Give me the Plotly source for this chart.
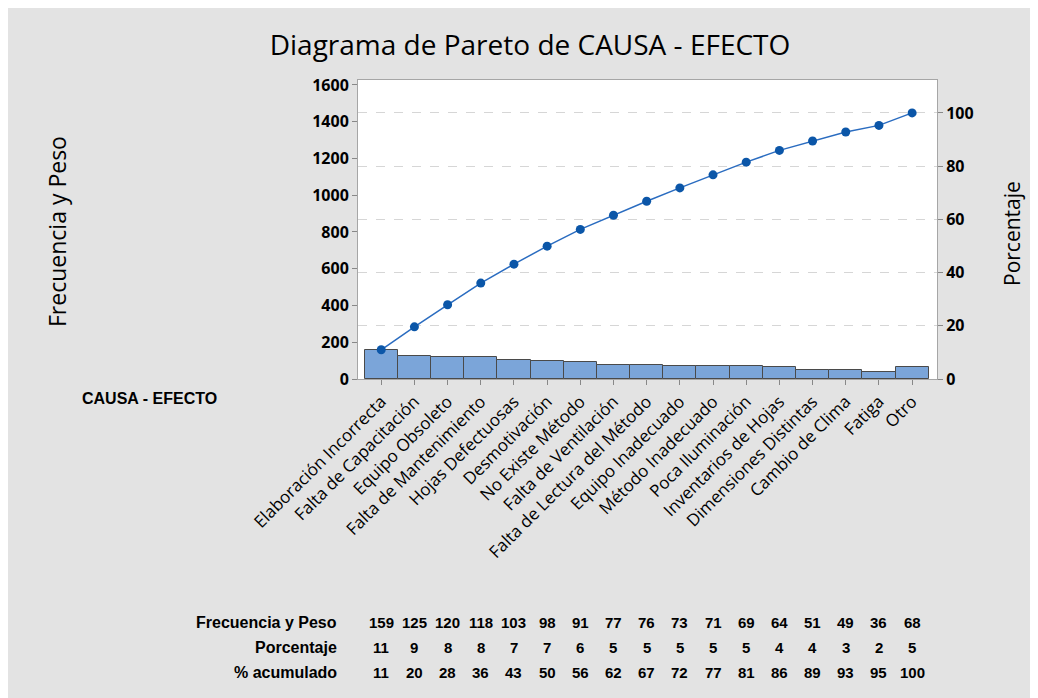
import plotly.graph_objects as go
import numpy as np

categories = ["Elaboración Incorrecta", "Falta de Capacitación", "Equipo Obsoleto",
              "Falta de Mantenimiento", "Hojas Defectuosas", "Desmotivación",
              "No Existe Método", "Falta de Ventilación", "Falta de Lectura del Método",
              "Equipo Inadecuado", "Método Inadecuado", "Poca Iluminación",
              "Inventarios de Hojas", "Dimensiones Distintas", "Cambio de Clima",
              "Fatiga", "Otro"]
frecuencia = [159, 125, 120, 118, 103, 98, 91, 77, 76, 73, 71, 69, 64, 51, 49, 36, 68]
porcentaje = [11, 9, 8, 8, 7, 7, 6, 5, 5, 5, 5, 5, 4, 4, 3, 2, 5]
acumulado = [11, 20, 28, 36, 43, 50, 56, 62, 67, 72, 77, 81, 86, 89, 93, 95, 100]
left_ticks = [0, 200, 400, 600, 800, 1000, 1200, 1400, 1600]
right_ticks = [0, 20, 40, 60, 80, 100]

total = sum(frecuencia)
cum_pct = np.cumsum(frecuencia) / total * 100
idx = list(range(len(categories)))

LEFT_MAX = 1627
RIGHT_MAX = LEFT_MAX / total * 100

OFF = 8  # page body margin
W, H = 1038 - OFF, 698 - OFF
ML, MT = 358 - OFF, 80 - OFF
PLOT_BOTTOM = 379 - OFF
PLOT_RIGHT = 937 - OFF
MB = H - PLOT_BOTTOM
MR = W - PLOT_RIGHT
PW, PH = W - ML - MR, H - MT - MB

def px(xp):
    return (xp - OFF - ML) / PW

def py(yp):
    return (PLOT_BOTTOM - (yp - OFF)) / PH

FONT = "Open Sans"

fig = go.Figure()
fig.add_trace(go.Bar(
    x=idx, y=frecuencia, width=1,
    marker=dict(color="#7ba5d9", line=dict(color="#4a4a4a", width=1)),
    hoverinfo="y", showlegend=False,
))
fig.add_trace(go.Scatter(
    x=idx, y=cum_pct, yaxis="y2", mode="lines+markers",
    line=dict(color="#2a6cc0", width=1.5),
    marker=dict(color="#0b56a8", size=9),
    showlegend=False,
))

annotations = []
rows = [("Frecuencia y Peso", frecuencia, 622), ("Porcentaje", porcentaje, 647),
        ("% acumulado", acumulado, 672)]
tfont = dict(family="Liberation Sans", size=15, color="black")
lfont = dict(family="Liberation Sans", size=16, color="black")
for label, vals, yp in rows:
    annotations.append(dict(text="<b>%s</b>" % label, xref="paper", yref="paper",
                            x=px(339), y=py(yp), xanchor="right", yanchor="middle",
                            showarrow=False, font=lfont))
    for i, v in zip(idx, vals):
        annotations.append(dict(text="<b>%s</b>" % v, xref="x", yref="paper",
                                x=i, y=py(yp), xanchor="center", yanchor="middle",
                                showarrow=False, font=tfont))

annotations.append(dict(text="<b>CAUSA - EFECTO</b>", xref="paper", yref="paper",
                        x=px(80), y=py(398), xanchor="left", yanchor="middle",
                        showarrow=False, font=dict(family="Liberation Sans", size=16, color="black")))
annotations.append(dict(text="Frecuencia y Peso", xref="paper", yref="paper",
                        x=px(57), y=py(232), xanchor="center", yanchor="middle",
                        textangle=-90, showarrow=False,
                        font=dict(family=FONT, size=23, color="black")))
annotations.append(dict(text="Porcentaje", xref="paper", yref="paper",
                        x=px(1012), y=py(234), xanchor="center", yanchor="middle",
                        textangle=-90, showarrow=False,
                        font=dict(family=FONT, size=21, color="black")))

fig.update_layout(
    width=W, height=H,
    margin=dict(l=ML, r=MR, t=MT, b=MB),
    paper_bgcolor="#e3e3e3", plot_bgcolor="white",
    title=dict(text="Diagrama de Pareto de CAUSA - EFECTO", x=(530 - OFF) / W, xanchor="center",
               y=1 - (45 - OFF) / H, yanchor="middle",
               font=dict(family=FONT, size=28, color="black")),
    font=dict(family=FONT, color="black"),
    bargap=0,
    xaxis=dict(range=[-0.7, 16.75], tickmode="array", tickvals=idx, ticktext=categories,
               tickangle=-45, ticks="outside", ticklen=5, tickcolor="#888",
               showline=True, linecolor="#a6a6a6", mirror=True, showgrid=False,
               zeroline=False, tickfont=dict(family=FONT, size=17, color="black")),
    yaxis=dict(range=[0, LEFT_MAX], tickvals=left_ticks, ticks="outside", ticklen=5,
               tickcolor="#888", showline=True, linecolor="#a6a6a6", showgrid=False,
               zeroline=False, tickfont=dict(family=FONT, size=16, color="black", weight="bold")),
    yaxis2=dict(range=[0, RIGHT_MAX], tickvals=right_ticks, overlaying="y", side="right",
                ticks="outside", ticklen=5, tickcolor="#888", showline=True,
                linecolor="#a6a6a6", showgrid=True, gridcolor="#d6d6d6", griddash="dash",
                zeroline=False, tickfont=dict(family=FONT, size=16, color="black", weight="bold")),
    annotations=annotations,
)

fig.write_html("out.html")
